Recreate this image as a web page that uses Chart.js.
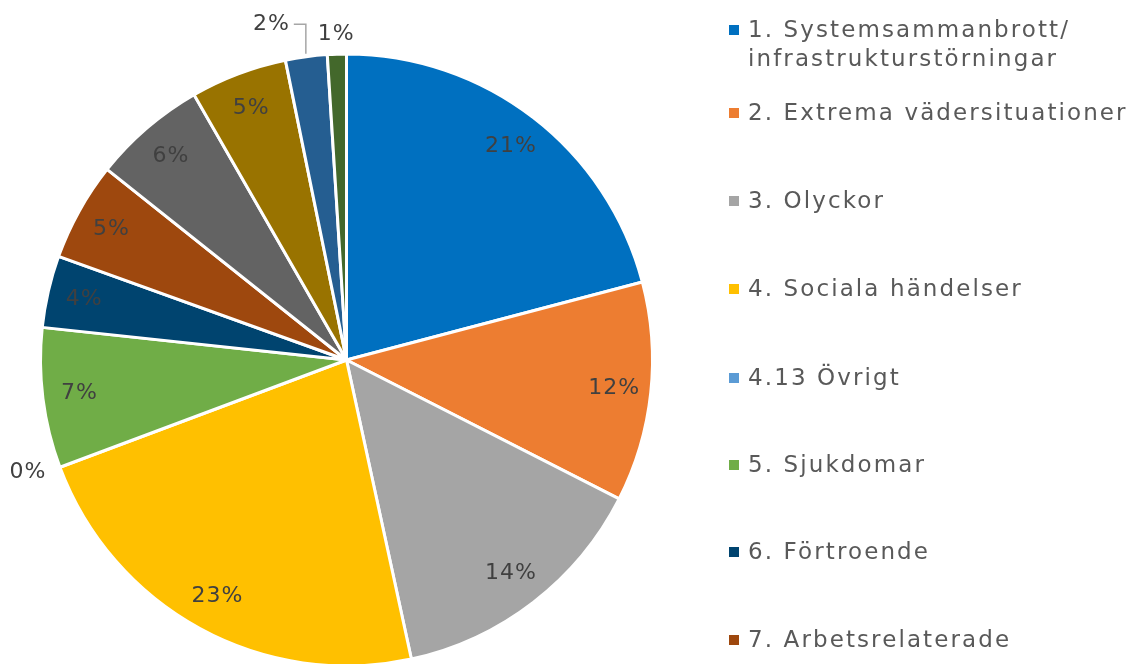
<!DOCTYPE html>
<html>
<head>
<meta charset="utf-8">
<script src="https://cdn.jsdelivr.net/npm/chart.js@4"></script>
<style>
  html, body { margin: 0; padding: 0; background: #fff; overflow: hidden; }
  #wrap { position: relative; width: 1127px; height: 664px; }
  #legend { position: absolute; left: 729px; top: 0; width: 398px; height: 664px; overflow: hidden;
            font-family: "DejaVu Sans", Verdana, sans-serif; font-size: 23px; letter-spacing: 2.1px; color: #595959; }
  .item { position: absolute; left: 0; }
  .box { position: absolute; left: 0; width: 10px; height: 10px; }
  .txt { position: absolute; left: 19px; line-height: 29px; white-space: nowrap; }
</style>
</head>
<body>
<div id="wrap">
  <canvas id="myChart" width="1127" height="664"></canvas>
  <div id="legend"></div>
</div>
<script>
const categories = [
  "1. Systemsammanbrott/\ninfrastrukturstörningar",
  "2. Extrema vädersituationer",
  "3. Olyckor",
  "4. Sociala händelser",
  "4.13 Övrigt",
  "5. Sjukdomar",
  "6. Förtroende",
  "7. Arbetsrelaterade",
  "8. Antagonistiska hot",
  "9. Ekonomiska händelser",
  "10. Miljöhändelser",
  "11. Övrigt"
];
const values = [20.9, 11.6, 14.1, 22.7, 0, 7.4, 3.8, 5.2, 6.0, 5.1, 2.2, 1.0];
const percentLabels = ["21%", "12%", "14%", "23%", "0%", "7%", "4%", "5%", "6%", "5%", "2%", "1%"];
const colors = ["#0070C0", "#ED7D31", "#A5A5A5", "#FFC000", "#5B9BD5", "#70AD47",
                "#00446F", "#9E480E", "#636363", "#997300", "#255E91", "#43682B"];

// legend rows (center y of first line)
const legendRows = [30, 113, 201, 289, 378, 465, 552, 640, 728, 816, 904, 992];

function buildLegend() {
  const el = document.getElementById("legend");
  categories.forEach((c, i) => {
    const item = document.createElement("div");
    item.className = "item";
    item.style.top = (legendRows[i] - 15) + "px";
    const box = document.createElement("div");
    box.className = "box";
    box.style.top = "10px";
    box.style.background = colors[i];
    const txt = document.createElement("div");
    txt.className = "txt";
    txt.innerHTML = c.replace("\n", "<br>");
    item.appendChild(box);
    item.appendChild(txt);
    el.appendChild(item);
  });
}

const labelPlugin = {
  id: "pctLabels",
  afterDatasetsDraw(chart) {
    const ctx = chart.ctx;
    const arcs = chart.getDatasetMeta(0).data;
    ctx.save();
    ctx.font = "22px 'DejaVu Sans', Verdana, sans-serif";
    ctx.letterSpacing = "1px";
    ctx.fillStyle = "#404040";
    ctx.textAlign = "center";
    ctx.textBaseline = "middle";
    const outside = [];
    arcs.forEach((arc, i) => {
      const { x, y, startAngle, endAngle, outerRadius } = arc.getProps(["x", "y", "startAngle", "endAngle", "outerRadius"], true);
      const mid = (startAngle + endAngle) / 2;
      const w = ctx.measureText(percentLabels[i]).width;
      if (values[i] >= 3) {
        const d = outerRadius * 0.88;
        ctx.fillText(percentLabels[i], x + Math.cos(mid) * d, y + Math.sin(mid) * d);
        return;
      }
      let lx, ly;
      if (values[i] === 0) {
        lx = x + Math.cos(mid) * (outerRadius + 34);
        ly = y + Math.sin(mid) * (outerRadius + 14);
      } else {
        lx = x + Math.cos(mid) * (outerRadius + 20);
        ly = y + Math.sin(mid) * (outerRadius + 20);
      }
      outside.push({ i, x: lx, y: ly, w,
                     ax: x + Math.cos(mid) * (outerRadius + 3),
                     ay: y + Math.sin(mid) * (outerRadius + 3) });
    });
    // resolve overlaps: push earlier label left/up with a leader line
    for (let k = 0; k < outside.length; k++) {
      const p = outside[k];
      const q = outside[k + 1];
      if (q && Math.abs(q.x - p.x) < (p.w + q.w) / 2 && Math.abs(q.y - p.y) < 24) {
        p.x = q.x - q.w / 2 - p.w / 2 - 28;
        p.y = q.y - 10;
        ctx.strokeStyle = "#A6A6A6";
        ctx.lineWidth = 1.5;
        ctx.beginPath();
        ctx.moveTo(p.x + p.w / 2 + 4, p.y);
        ctx.lineTo(p.ax, p.y);
        ctx.lineTo(p.ax, p.ay);
        ctx.stroke();
      }
    }
    outside.forEach((p) => ctx.fillText(percentLabels[p.i], p.x, p.y));
    ctx.restore();
  }
};

function makeChart() {
  const ctx = document.getElementById("myChart").getContext("2d");
  new Chart(ctx, {
    type: "pie",
    data: {
      labels: categories,
      datasets: [{
        data: values,
        backgroundColor: colors,
        borderColor: "#ffffff",
        borderWidth: 3,
        hoverOffset: 0
      }]
    },
    options: {
      responsive: false,
      animation: false,
      radius: 306,
      layout: { padding: { left: 40, right: 474, top: 56, bottom: 0 } },
      plugins: {
        legend: { display: false },
        tooltip: { enabled: false }
      }
    },
    plugins: [labelPlugin]
  });
}

buildLegend();
makeChart();
</script>
</body>
</html>
